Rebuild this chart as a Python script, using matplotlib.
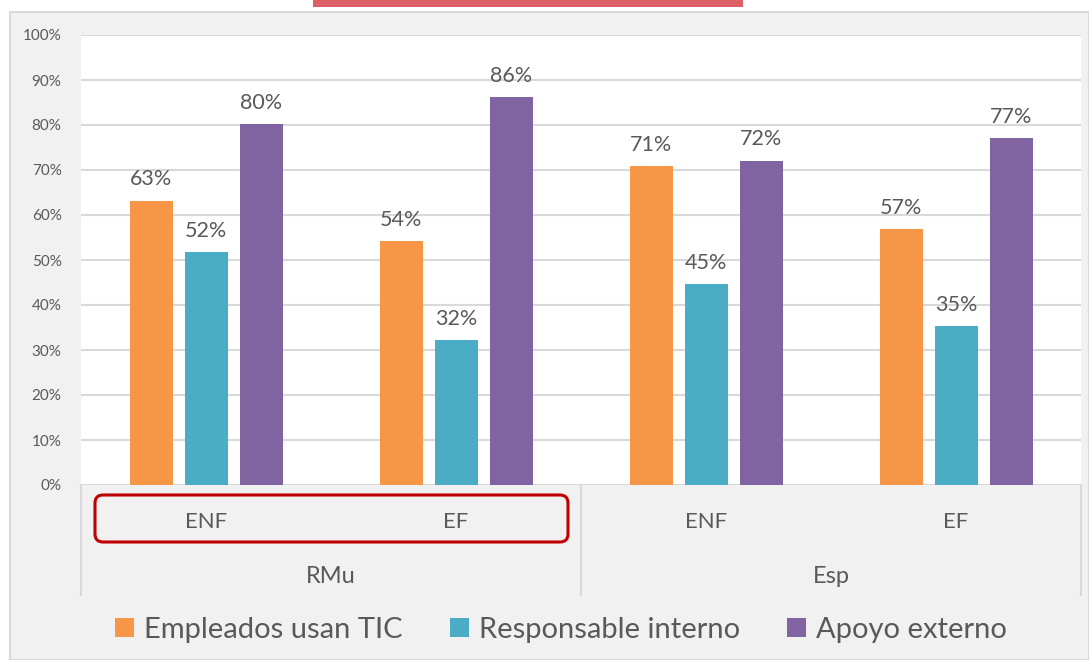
import matplotlib.pyplot as plt
import numpy as np
from matplotlib.patches import FancyBboxPatch, Rectangle
from matplotlib.transforms import IdentityTransform

# data
groups = ["RMu", "Esp"]
subcats = ["ENF", "EF", "ENF", "EF"]
series = ["Empleados usan TIC", "Responsable interno", "Apoyo externo"]
empleados = [63.2, 54.3, 70.9, 56.9]
responsable = [51.7, 32.2, 44.6, 35.4]
apoyo = [80.2, 86.3, 72.1, 77.1]
colors = ["#F79646", "#4BACC6", "#8064A2"]

plt.rcParams["font.family"] = ["Lato", "DejaVu Sans"]
txt = "#595959"
grid = "#D9D9D9"

W, H = 1089, 660
fig = plt.figure(figsize=(W / 100, H / 100), dpi=100, facecolor="white")

# chart background box and the red strip on top
fig.patches.append(Rectangle((10, 0), W - 10, H - 12, transform=IdentityTransform(),
                             facecolor="#F1F1F1", edgecolor=grid, lw=1.5, zorder=-2))
fig.patches.append(Rectangle((313, H - 7), 430, 7, transform=IdentityTransform(),
                             facecolor="#DE5F65", edgecolor="none", zorder=-1))

ax = fig.add_axes([81 / W, (H - 485) / H, 1000 / W, 450 / H])
ax.set_facecolor("white")

x = np.arange(len(subcats))
width = 0.172
step = 0.22
for i, (vals, c) in enumerate(zip([empleados, responsable, apoyo], colors)):
    v = np.array(vals) / 100
    bars = ax.bar(x + (i - 1) * step, v, width, color=c, label=series[i], zorder=3)
    for b, val in zip(bars, vals):
        ax.annotate(f"{round(val)}%", (b.get_x() + b.get_width() / 2, b.get_height()),
                    xytext=(0, 8), textcoords="offset points", ha="center", va="bottom",
                    fontsize=15.5, color=txt)

ax.set_xlim(-0.5, 3.5)
ax.set_ylim(0, 1)
ax.set_yticks(np.arange(0, 1.01, 0.1))
ax.set_yticklabels([f"{int(t)}%" for t in np.arange(0, 101, 10)], fontsize=11, color=txt)
ax.tick_params(axis="y", length=0, pad=14)
ax.tick_params(axis="x", length=0, labelbottom=False)
ax.grid(axis="y", color=grid, lw=1.5, zorder=0)
for s in ax.spines.values():
    s.set_visible(False)
ax.axhline(0, color=grid, lw=1.5, zorder=1)

# two-level category axis
tr = ax.get_xaxis_transform()
for xi, lab in zip(x, subcats):
    ax.text(xi, -0.082, lab, transform=tr, ha="center", va="center",
            fontsize=16, color=txt, clip_on=False)
for gi, g in enumerate(groups):
    ax.text(0.5 + 2 * gi, -0.204, g, transform=tr, ha="center", va="center",
            fontsize=17, color=txt, clip_on=False)
for xs in [-0.5, 1.5, 3.5]:
    ax.plot([xs, xs], [0, -0.244], transform=tr, color=grid, lw=1.5, clip_on=False)

# red rounded highlight around the RMu labels
fig.patches.append(FancyBboxPatch((95, H - 542), 473, 47, transform=IdentityTransform(),
                                  boxstyle="round,pad=0,rounding_size=8",
                                  facecolor="none", edgecolor="#C00000", lw=2.2, zorder=5))

fig.legend(loc="center", bbox_to_anchor=(561 / W, 30 / H), ncol=3, frameon=False,
           fontsize=21, labelcolor=txt, handlelength=0.65, handleheight=0.65,
           handletextpad=0.35, columnspacing=1.6)

fig.savefig("out.png", dpi=100, facecolor="white")
